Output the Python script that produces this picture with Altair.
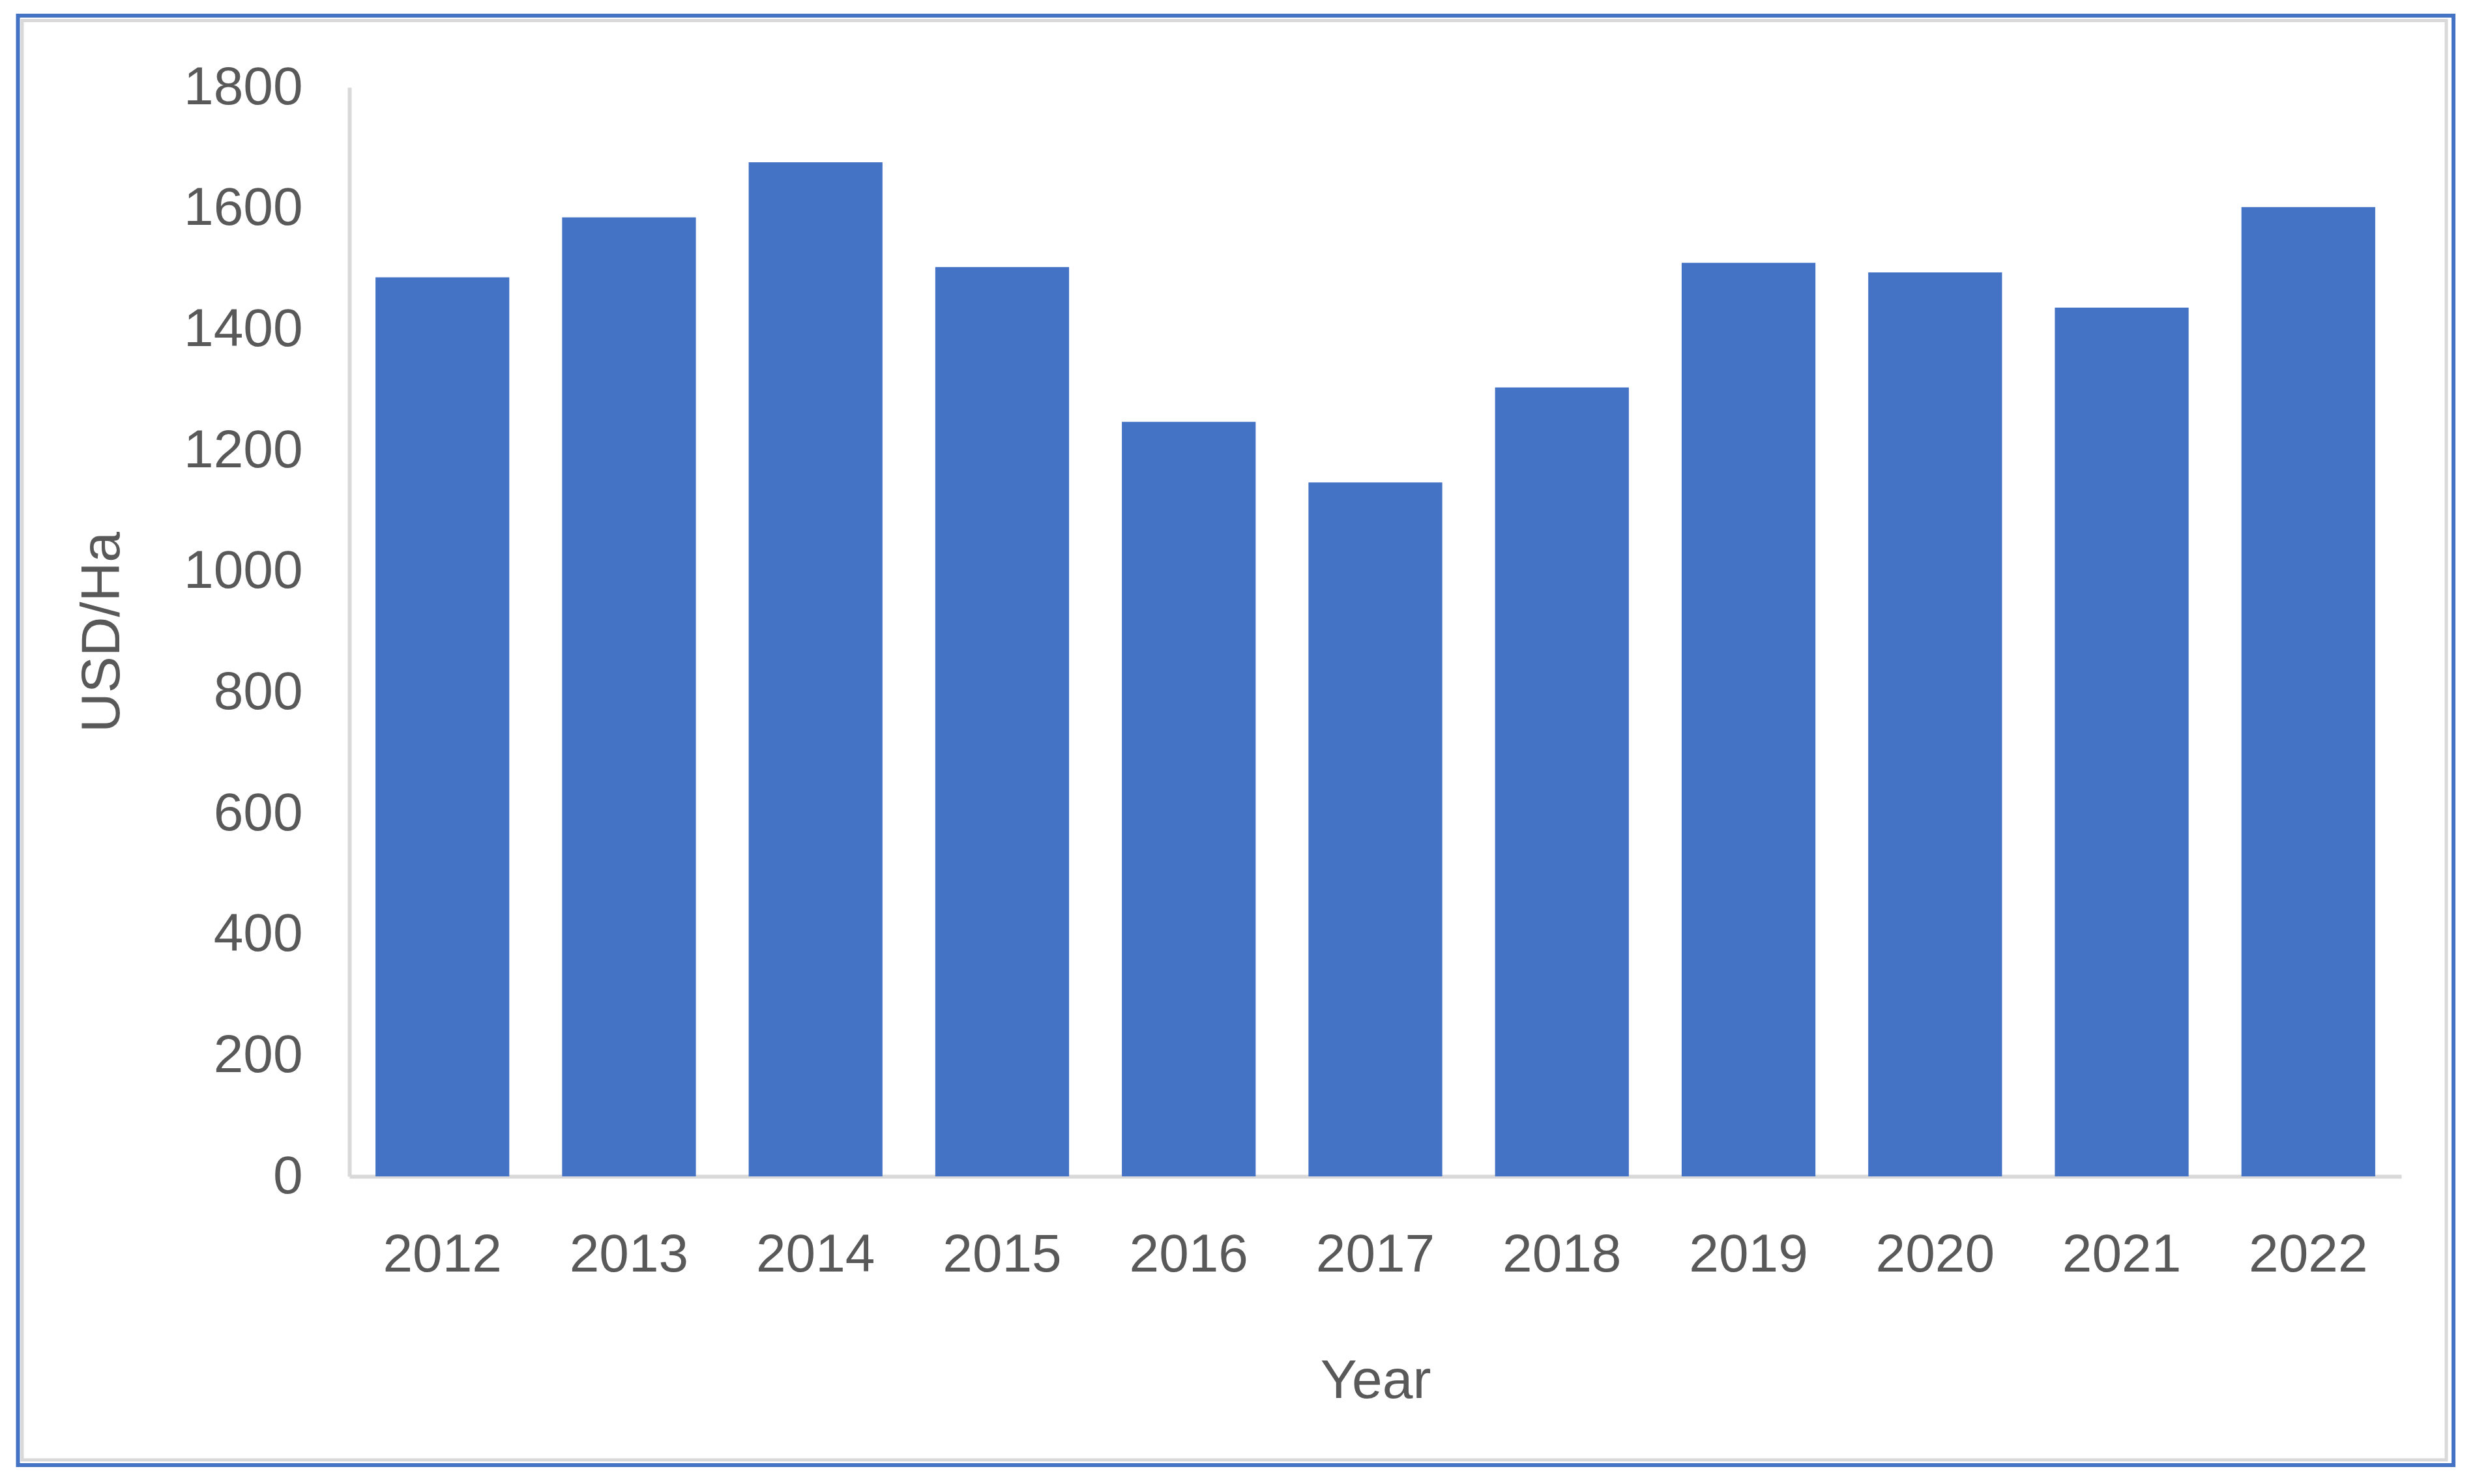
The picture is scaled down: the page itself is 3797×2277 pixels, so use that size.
import altair as alt
import pandas as pd

years = ["2012", "2013", "2014", "2015", "2016", "2017", "2018", "2019", "2020", "2021", "2022"]
values = [1486, 1585, 1676, 1503, 1247, 1147, 1304, 1510, 1494, 1436, 1602]
y_ticks = [0, 200, 400, 600, 800, 1000, 1200, 1400, 1600, 1800]

df = pd.DataFrame({"Year": years, "Value": values})

FONT = "Liberation Sans"
GREY_TXT = "#595959"
AXIS_GREY = "#D9D9D9"
BLUE = "#4472C4"

W, H = 3148, 1671

bars = alt.Chart(df).mark_bar(color=BLUE).encode(
    x=alt.X(
        "Year:N",
        sort=years,
        scale=alt.Scale(paddingInner=0.283, paddingOuter=0.14),
        axis=alt.Axis(
            title="Year",
            labelAngle=0,
            ticks=False,
            labelPadding=80,
            labelLimit=0,
            labelFont=FONT,
            labelFontSize=82,
            labelColor=GREY_TXT,
            domainColor=AXIS_GREY,
            domainWidth=6,
            titleFont=FONT,
            titleFontSize=84,
            titleFontWeight="normal",
            titleColor=GREY_TXT,
            titleY=314,
            titleBaseline="middle",
        ),
    ),
    y=alt.Y(
        "Value:Q",
        scale=alt.Scale(domain=[0, 1800], nice=False),
        axis=alt.Axis(
            title="USD/Ha",
            values=y_ticks,
            format="d",
            grid=False,
            ticks=False,
            labelPadding=72,
            labelLimit=0,
            labelFont=FONT,
            labelFontSize=82,
            labelColor=GREY_TXT,
            domainColor=AXIS_GREY,
            domainWidth=6,
            titleFont=FONT,
            titleFontSize=84,
            titleFontWeight="normal",
            titleColor=GREY_TXT,
            titleX=-379,
            titleY=H / 2,
            titleAngle=270,
            titleAlign="center",
            titleBaseline="middle",
        ),
    ),
)

one = pd.DataFrame({"k": [0]})
blue_border = alt.Chart(one).mark_rect(fill="transparent", stroke=BLUE, strokeWidth=6).encode(
    x=alt.value(27.5 - 536), x2=alt.value(3764 - 536),
    y=alt.value(24 - 134), y2=alt.value(2248 - 134),
)
grey_border = alt.Chart(one).mark_rect(fill="transparent", stroke=AXIS_GREY, strokeWidth=5).encode(
    x=alt.value(34 - 536), x2=alt.value(3753 - 536),
    y=alt.value(31.5 - 134), y2=alt.value(2240 - 134),
)

chart = alt.layer(grey_border, blue_border, bars).properties(
    width=W,
    height=H,
    autosize=alt.AutoSizeParams(type="none"),
    padding={"left": 528, "top": 126, "right": 97, "bottom": 455},
    view=alt.ViewBackground(strokeOpacity=0, strokeWidth=0),
).configure_view(strokeOpacity=0, strokeWidth=0).configure(background="white")

chart.save("out.html", embed_options={"renderer": "svg", "actions": False})
